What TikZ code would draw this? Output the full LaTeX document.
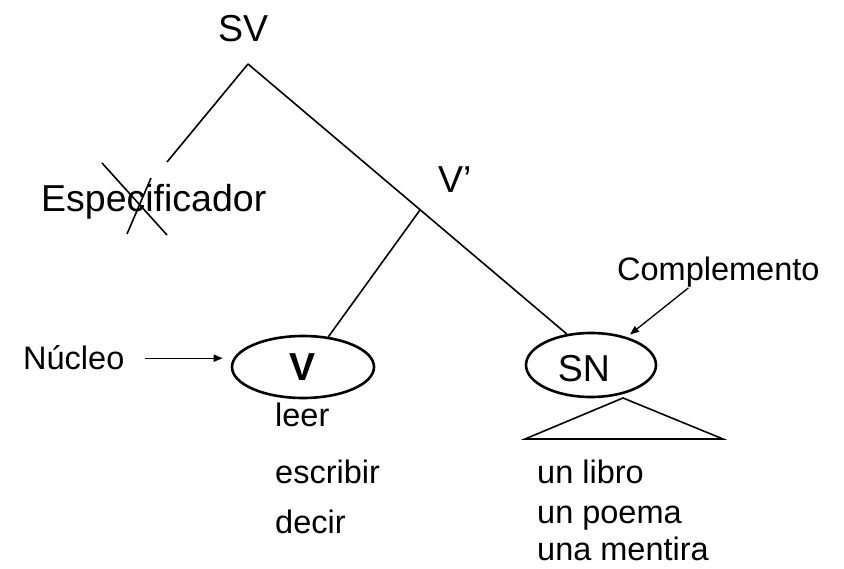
\documentclass[tikz,border=0pt]{standalone}
\usepackage{fontspec}
\setmainfont{Liberation Sans}
\usetikzlibrary{arrows.meta,shapes.geometric}
\begin{document}
\begin{tikzpicture}[x=1pt,y=-1pt,
 big/.style={inner sep=0pt, anchor=base west, font=\fontsize{37.5}{44}\selectfont},
 small/.style={inner sep=0pt, anchor=base west, font=\fontsize{32.5}{38}\selectfont},
 branch/.style={line width=1.6pt},
 oval/.style={draw, ellipse, line width=2.6pt, inner sep=0pt},
 arr/.style={line width=1.3pt, -{Triangle[length=9pt,width=7pt]}}]
\useasboundingbox (0,0) rectangle (844,569);
% labels
\node[big] (sv) at (218,42) {SV};
\node[big] (spec) at (41,212) {Especificador};
\node[big] (vbar) at (438,193) {V’};
\node[small] (compl) at (617,281) {Complemento};
\node[small] (nucleo) at (23,370) {Núcleo};
% ovals
\node[oval, minimum width=142pt, minimum height=62pt, font=\fontsize{39}{46}\selectfont\bfseries] (v) at (303,367) {V};
\node[oval, minimum width=130pt, minimum height=64pt] (sn) at (591,365) {};
\node[inner sep=0pt, font=\fontsize{37.5}{44}\selectfont] (snlab) at (584,369) {SN};
% word lists
\node[small] (w1) at (275,427) {leer};
\node[small] (w2) at (275,483) {escribir};
\node[small] (w3) at (275,533) {decir};
\node[small] (n1) at (537,483) {un libro};
\node[small] (n2) at (537,523) {un poema};
\node[small] (n3) at (537,560) {una mentira};
% tree branches
\coordinate (svroot) at (248,64);
\coordinate (specend) at (167,162);
\coordinate (vbarpt) at (420,210);
\draw[branch] (svroot) -- (specend);
\draw[branch] (svroot) -- (sn.128);
\draw[branch] (vbarpt) -- (v.50);
% cross over Especificador
\coordinate (c1a) at (102,163);
\coordinate (c1b) at (167,235);
\coordinate (c2a) at (151,178);
\coordinate (c2b) at (127,234);
\draw[branch] (c1a) -- (c1b);
\draw[branch] (c2a) -- (c2b);
% triangle under SN
\coordinate (tri) at (623,398);
\coordinate (trir) at (723,439);
\coordinate (tril) at (525,439);
\draw[branch, line join=miter] (tri) -- (trir) -- (tril) -- cycle;
% arrows
\draw[arr] ([xshift=20pt]nucleo.east) -- ([xshift=-8pt]nucleo.east -| v.west);
\draw[arr, shorten >=4pt] ([xshift=-30pt]compl.south) -- (sn.38);
\end{tikzpicture}
\end{document}
